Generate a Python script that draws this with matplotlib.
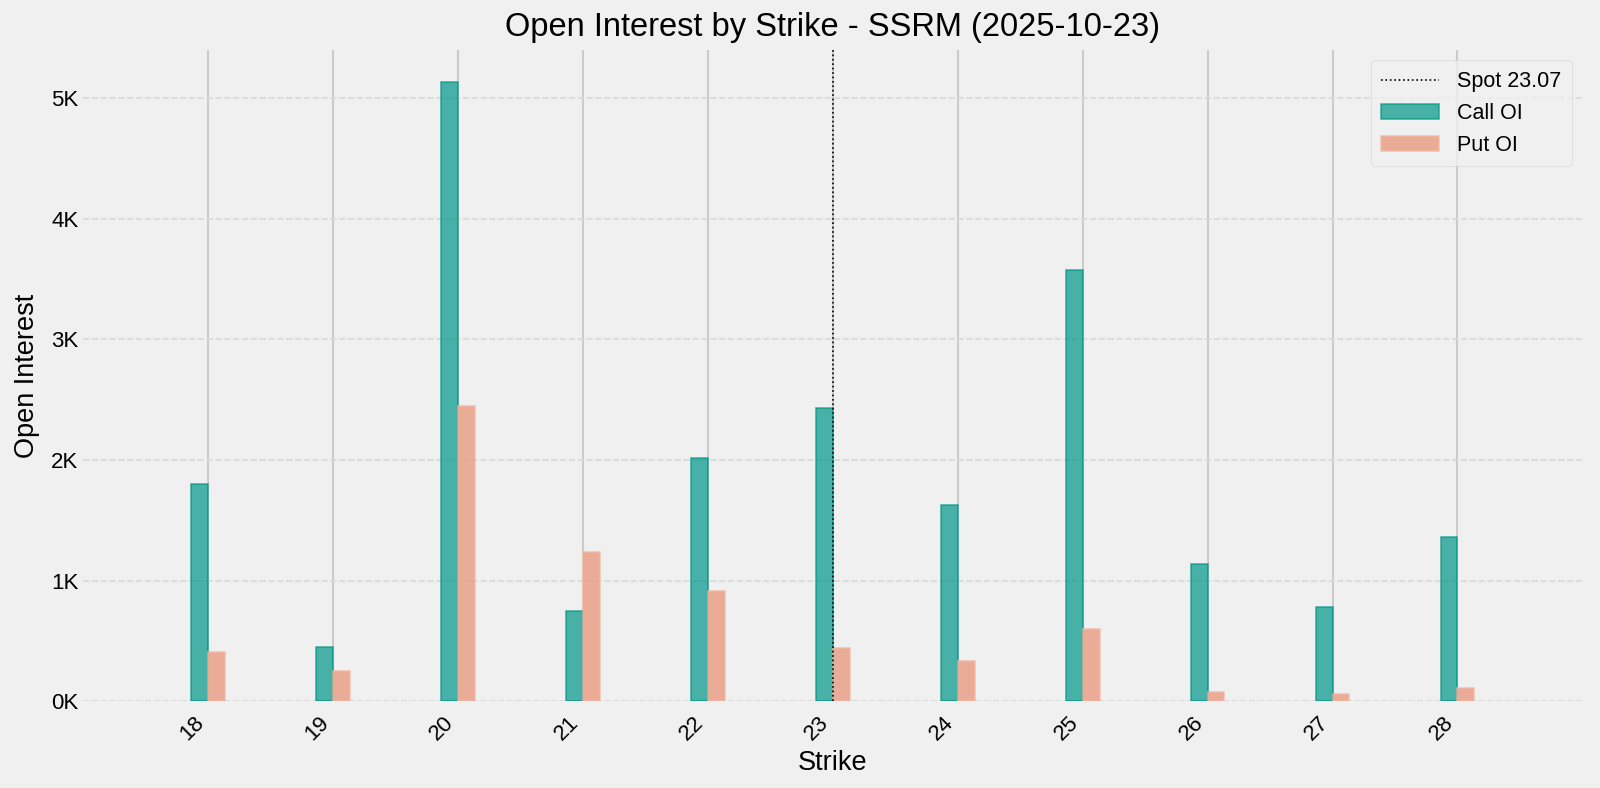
import matplotlib
matplotlib.use("Agg")
import matplotlib.pyplot as plt
from matplotlib.ticker import FuncFormatter
import numpy as np

strikes = [18, 19, 20, 21, 22, 23, 24, 25, 26, 27, 28]
call_oi = [1800, 450, 5130, 750, 2015, 2430, 1630, 3575, 1140, 780, 1365]
put_oi = [405, 255, 2450, 1240, 915, 440, 335, 600, 80, 60, 110]
spot = 23.07
ticker = "SSRM"
date = "2025-10-23"

plt.style.use("fivethirtyeight")
plt.rcParams['font.family'] = ['Liberation Sans', 'DejaVu Sans']

fig, ax = plt.subplots(figsize=(16, 7.88), dpi=100)
fig.subplots_adjust(left=0.052, right=0.989, top=0.937, bottom=0.11)

x = np.array(strikes, dtype=float)
w = 0.135
ax.bar(x, call_oi, width=-w, align="edge", color="#009688", alpha=0.7,
       edgecolor="#009688", linewidth=1.2, label="Call OI", zorder=2)
ax.bar(x, put_oi, width=w, align="edge", color="#e9967a", alpha=0.75,
       edgecolor="#f0b8a5", linewidth=1.2, label="Put OI", zorder=2)

# spot line drawn at the nearest strike
spot_x = x[np.argmin(np.abs(x - spot))]
ax.axvline(spot_x, color="black", linestyle=":", linewidth=1.2,
           label=f"Spot {spot:.2f}", zorder=3)

ax.set_xlim(17, 29)
ax.set_ylim(0, max(call_oi) * 1.053)
ax.set_xticks(strikes)
ax.set_xticklabels([str(s) for s in strikes], rotation=45, ha="right", fontsize=16)
ax.set_yticks(np.arange(0, 6000, 1000))
ax.yaxis.set_major_formatter(FuncFormatter(lambda v, p: f"{v/1000:.0f}K"))
ax.tick_params(axis="y", labelsize=16)
ax.tick_params(axis="x", pad=8)

ax.xaxis.grid(True, color="#cbcbcb", linestyle="-", linewidth=1.5, zorder=0)
ax.yaxis.grid(True, color="#d9d9d9", linestyle="--", linewidth=1.2, zorder=0)
ax.set_axisbelow(True)
for s in ax.spines.values():
    s.set_visible(False)

ax.set_title(f"Open Interest by Strike - {ticker} ({date})", fontsize=23.5, pad=10)
ax.set_xlabel("Strike", fontsize=19.5)
ax.set_ylabel("Open Interest", fontsize=19.5, labelpad=8)
ax.legend(loc="upper right", fontsize=15.5, facecolor="#f0f0f0", framealpha=0.8,
          edgecolor="#d0d0d0", handlelength=2.7, labelspacing=0.5, borderpad=0.5)

plt.savefig("out.png", dpi=100, facecolor=fig.get_facecolor())
